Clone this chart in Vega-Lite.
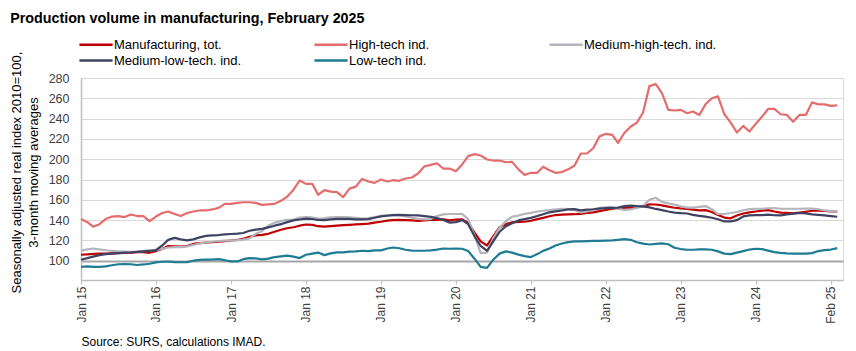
{
  "$schema": "https://vega.github.io/schema/vega-lite/v6.json",
  "autosize": {"type": "none"},
  "padding": {"left": 81, "top": 78, "right": 13, "bottom": 71},
  "width": 762,
  "height": 202,
  "title": {"text": "Production volume in manufacturing, February 2025", "anchor": "start", "font": "Liberation Sans", "fontSize": 14.3, "fontWeight": "bold", "color": "#000000", "offset": 12},
  "config": {
    "view": {"stroke": "#D9D9D9", "strokeWidth": 1},
    "axis": {"labelFont": "Liberation Sans", "titleFont": "Liberation Sans", "labelColor": "#404040"}
  },
  "data": {"values": [
    {"d":"2015-01","tot":105.9,"hi":141,"mhi":110,"mlo":101,"lo":94},
    {"d":"2015-02","tot":106.3,"hi":138,"mhi":111.2,"mlo":102.5,"lo":94.5},
    {"d":"2015-03","tot":106.7,"hi":133.5,"mhi":112,"mlo":104,"lo":94},
    {"d":"2015-04","tot":107,"hi":136,"mhi":111.2,"mlo":105.5,"lo":94},
    {"d":"2015-05","tot":107.1,"hi":141,"mhi":110.3,"mlo":106.5,"lo":94.5},
    {"d":"2015-06","tot":107.3,"hi":143.5,"mhi":109.6,"mlo":107,"lo":95.5},
    {"d":"2015-07","tot":107.5,"hi":144,"mhi":109.3,"mlo":107.5,"lo":96.5},
    {"d":"2015-08","tot":107.7,"hi":143,"mhi":109,"mlo":108,"lo":96.7},
    {"d":"2015-09","tot":107.9,"hi":145.5,"mhi":108.8,"mlo":108.3,"lo":96.5},
    {"d":"2015-10","tot":108.4,"hi":144,"mhi":109,"mlo":108.8,"lo":95.8},
    {"d":"2015-11","tot":108.5,"hi":144,"mhi":109.7,"mlo":109.2,"lo":96.3},
    {"d":"2015-12","tot":107.8,"hi":139,"mhi":110.2,"mlo":109.6,"lo":97},
    {"d":"2016-01","tot":109.5,"hi":143.5,"mhi":110.6,"mlo":110.5,"lo":98.3},
    {"d":"2016-02","tot":111.5,"hi":147,"mhi":111.6,"mlo":115,"lo":99},
    {"d":"2016-03","tot":114.5,"hi":148.5,"mhi":113,"mlo":120.5,"lo":99.2},
    {"d":"2016-04","tot":114.2,"hi":146,"mhi":113.4,"mlo":122.5,"lo":98.7},
    {"d":"2016-05","tot":113.8,"hi":144,"mhi":113.4,"mlo":121,"lo":98.5},
    {"d":"2016-06","tot":114.5,"hi":147,"mhi":114,"mlo":120,"lo":98.6},
    {"d":"2016-07","tot":116.5,"hi":148.5,"mhi":115.5,"mlo":121,"lo":100},
    {"d":"2016-08","tot":117.3,"hi":149.5,"mhi":117,"mlo":123,"lo":100.8},
    {"d":"2016-09","tot":117.8,"hi":149.5,"mhi":118,"mlo":124.5,"lo":101},
    {"d":"2016-10","tot":118.2,"hi":150.5,"mhi":118.7,"mlo":125,"lo":101},
    {"d":"2016-11","tot":118.7,"hi":152,"mhi":119.4,"mlo":125.3,"lo":101.5},
    {"d":"2016-12","tot":119.3,"hi":156,"mhi":119.7,"mlo":126,"lo":100.5},
    {"d":"2017-01","tot":119.9,"hi":156,"mhi":119.9,"mlo":126.3,"lo":99.3},
    {"d":"2017-02","tot":120.6,"hi":157,"mhi":120.3,"mlo":126.6,"lo":99.3},
    {"d":"2017-03","tot":121.5,"hi":157.6,"mhi":120.8,"mlo":127.3,"lo":101.5},
    {"d":"2017-04","tot":123.5,"hi":157.6,"mhi":122,"mlo":129.5,"lo":102.5},
    {"d":"2017-05","tot":125,"hi":157,"mhi":126.5,"mlo":130.7,"lo":102.3},
    {"d":"2017-06","tot":125.5,"hi":155,"mhi":129,"mlo":131.3,"lo":101.3},
    {"d":"2017-07","tot":126.5,"hi":155.5,"mhi":134.5,"mlo":132.8,"lo":102},
    {"d":"2017-08","tot":128.5,"hi":156,"mhi":137.5,"mlo":134.5,"lo":103.5},
    {"d":"2017-09","tot":130.5,"hi":159,"mhi":139,"mlo":136,"lo":104.3},
    {"d":"2017-10","tot":132,"hi":163,"mhi":140.2,"mlo":138,"lo":105},
    {"d":"2017-11","tot":133,"hi":170,"mhi":140.5,"mlo":139.7,"lo":104},
    {"d":"2017-12","tot":134.5,"hi":179,"mhi":142.5,"mlo":140.6,"lo":102.6},
    {"d":"2018-01","tot":135.7,"hi":175.7,"mhi":142.9,"mlo":141.4,"lo":105.9},
    {"d":"2018-02","tot":135.3,"hi":175.7,"mhi":142.6,"mlo":141.1,"lo":107},
    {"d":"2018-03","tot":134,"hi":165,"mhi":141.6,"mlo":140.1,"lo":108},
    {"d":"2018-04","tot":133.5,"hi":169.5,"mhi":142,"mlo":140,"lo":105.5},
    {"d":"2018-05","tot":134,"hi":168,"mhi":142.7,"mlo":140.7,"lo":107.2},
    {"d":"2018-06","tot":134.5,"hi":167.5,"mhi":143,"mlo":141.2,"lo":108.2},
    {"d":"2018-07","tot":135,"hi":162.6,"mhi":143,"mlo":141.3,"lo":108.2},
    {"d":"2018-08","tot":135.4,"hi":171,"mhi":142.8,"mlo":141.3,"lo":108.9},
    {"d":"2018-09","tot":135.8,"hi":173,"mhi":142.3,"mlo":140.8,"lo":109.2},
    {"d":"2018-10","tot":136.1,"hi":180.6,"mhi":141.6,"mlo":140.7,"lo":109.8},
    {"d":"2018-11","tot":136.5,"hi":178,"mhi":142,"mlo":141,"lo":109.5},
    {"d":"2018-12","tot":137.5,"hi":176.7,"mhi":143,"mlo":142.3,"lo":110.2},
    {"d":"2019-01","tot":138.4,"hi":180,"mhi":144.2,"mlo":143.7,"lo":110.2},
    {"d":"2019-02","tot":139.5,"hi":178,"mhi":145,"mlo":144.3,"lo":112},
    {"d":"2019-03","tot":140,"hi":179.3,"mhi":145.2,"mlo":144.9,"lo":113},
    {"d":"2019-04","tot":140.3,"hi":178.7,"mhi":144.8,"mlo":145.2,"lo":112.3},
    {"d":"2019-05","tot":140,"hi":181,"mhi":143.7,"mlo":145,"lo":110.8},
    {"d":"2019-06","tot":139.7,"hi":182,"mhi":142.5,"mlo":144.8,"lo":110},
    {"d":"2019-07","tot":139.2,"hi":186,"mhi":141.3,"mlo":144.6,"lo":109.8},
    {"d":"2019-08","tot":139.7,"hi":193,"mhi":140.8,"mlo":144,"lo":109.8},
    {"d":"2019-09","tot":140.2,"hi":194.4,"mhi":141,"mlo":143.2,"lo":110.2},
    {"d":"2019-10","tot":140.3,"hi":196,"mhi":144,"mlo":142,"lo":111},
    {"d":"2019-11","tot":140.7,"hi":190.8,"mhi":145.7,"mlo":140.2,"lo":112},
    {"d":"2019-12","tot":139.8,"hi":190.8,"mhi":146,"mlo":137.6,"lo":111.8},
    {"d":"2020-01","tot":140.5,"hi":188.2,"mhi":146,"mlo":138,"lo":112},
    {"d":"2020-02","tot":140.7,"hi":194.8,"mhi":146,"mlo":140,"lo":111.8},
    {"d":"2020-03","tot":137.5,"hi":203,"mhi":141,"mlo":136,"lo":109.5},
    {"d":"2020-04","tot":127.6,"hi":205,"mhi":125,"mlo":124,"lo":102},
    {"d":"2020-05","tot":119,"hi":203.6,"mhi":107.5,"mlo":114.5,"lo":94},
    {"d":"2020-06","tot":115,"hi":199.7,"mhi":108,"mlo":109.7,"lo":93},
    {"d":"2020-07","tot":124,"hi":198.7,"mhi":122,"mlo":119,"lo":101},
    {"d":"2020-08","tot":133,"hi":198.7,"mhi":132.5,"mlo":128.5,"lo":107},
    {"d":"2020-09","tot":136,"hi":197,"mhi":139,"mlo":134,"lo":109.2},
    {"d":"2020-10","tot":137.8,"hi":197.4,"mhi":143.5,"mlo":137,"lo":108},
    {"d":"2020-11","tot":138.2,"hi":190,"mhi":144.5,"mlo":139.7,"lo":106},
    {"d":"2020-12","tot":138.4,"hi":184.6,"mhi":146.2,"mlo":141,"lo":104.5},
    {"d":"2021-01","tot":139.4,"hi":186.6,"mhi":147.2,"mlo":142.2,"lo":103.6},
    {"d":"2021-02","tot":141,"hi":186.6,"mhi":148.5,"mlo":144,"lo":106.5},
    {"d":"2021-03","tot":142.2,"hi":192.5,"mhi":149.2,"mlo":145.8,"lo":109.7},
    {"d":"2021-04","tot":143.8,"hi":189.2,"mhi":149.8,"mlo":147.7,"lo":112},
    {"d":"2021-05","tot":145,"hi":186.6,"mhi":150.5,"mlo":148.6,"lo":115},
    {"d":"2021-06","tot":145.4,"hi":187.3,"mhi":151,"mlo":149.5,"lo":117},
    {"d":"2021-07","tot":145.6,"hi":190,"mhi":150.8,"mlo":150.5,"lo":118.3},
    {"d":"2021-08","tot":145.8,"hi":193.8,"mhi":149.8,"mlo":150.8,"lo":119},
    {"d":"2021-09","tot":146.2,"hi":205.6,"mhi":147.5,"mlo":149.6,"lo":119},
    {"d":"2021-10","tot":147,"hi":205.6,"mhi":148.6,"mlo":150.3,"lo":119.2},
    {"d":"2021-11","tot":147.7,"hi":211,"mhi":150.5,"mlo":150.7,"lo":119.5},
    {"d":"2021-12","tot":148.8,"hi":222.5,"mhi":152,"mlo":151.4,"lo":119.6},
    {"d":"2022-01","tot":150,"hi":225,"mhi":152.5,"mlo":151.9,"lo":119.8},
    {"d":"2022-02","tot":151.2,"hi":224,"mhi":152.7,"mlo":152.1,"lo":120},
    {"d":"2022-03","tot":151.7,"hi":216,"mhi":151.2,"mlo":152.3,"lo":120.6},
    {"d":"2022-04","tot":152.1,"hi":225.8,"mhi":150,"mlo":153.8,"lo":121.2},
    {"d":"2022-05","tot":152.1,"hi":232,"mhi":150.5,"mlo":154.2,"lo":120.6},
    {"d":"2022-06","tot":152.8,"hi":236,"mhi":152,"mlo":153.8,"lo":118.2},
    {"d":"2022-07","tot":153.5,"hi":246,"mhi":153.8,"mlo":153.6,"lo":116.8},
    {"d":"2022-08","tot":155.5,"hi":272,"mhi":160,"mlo":152.5,"lo":116},
    {"d":"2022-09","tot":155.4,"hi":274,"mhi":162,"mlo":151,"lo":116.5},
    {"d":"2022-10","tot":154.5,"hi":265,"mhi":158,"mlo":149.8,"lo":117},
    {"d":"2022-11","tot":153.3,"hi":248.6,"mhi":156.5,"mlo":148.5,"lo":116.2},
    {"d":"2022-12","tot":152.2,"hi":248,"mhi":155.3,"mlo":147.4,"lo":112.8},
    {"d":"2023-01","tot":151.5,"hi":248.6,"mhi":153.5,"mlo":146.8,"lo":111.5},
    {"d":"2023-02","tot":151,"hi":245.3,"mhi":152.3,"mlo":146.5,"lo":110.8},
    {"d":"2023-03","tot":150.3,"hi":247,"mhi":152.3,"mlo":145.2,"lo":110.8},
    {"d":"2023-04","tot":149.6,"hi":243.6,"mhi":153.1,"mlo":144.1,"lo":111.2},
    {"d":"2023-05","tot":149.8,"hi":254,"mhi":153.8,"mlo":143.5,"lo":111.2},
    {"d":"2023-06","tot":148,"hi":260,"mhi":150.8,"mlo":142.3,"lo":110.8},
    {"d":"2023-07","tot":145,"hi":262,"mhi":146,"mlo":140.8,"lo":109.2},
    {"d":"2023-08","tot":142.5,"hi":244.3,"mhi":146,"mlo":138.7,"lo":107},
    {"d":"2023-09","tot":141.8,"hi":236,"mhi":147,"mlo":138.7,"lo":106.5},
    {"d":"2023-10","tot":144.5,"hi":226.3,"mhi":148,"mlo":140,"lo":108},
    {"d":"2023-11","tot":146.5,"hi":232.8,"mhi":149.7,"mlo":143.6,"lo":109.5},
    {"d":"2023-12","tot":147.6,"hi":227.3,"mhi":150.8,"mlo":144.6,"lo":111},
    {"d":"2024-01","tot":148.5,"hi":234.8,"mhi":151.2,"mlo":144.9,"lo":111.8},
    {"d":"2024-02","tot":149.3,"hi":242,"mhi":151.2,"mlo":144.9,"lo":111.4},
    {"d":"2024-03","tot":149.8,"hi":249.5,"mhi":151.7,"mlo":145.4,"lo":110},
    {"d":"2024-04","tot":148.5,"hi":249.5,"mhi":151.8,"mlo":144.8,"lo":108.5},
    {"d":"2024-05","tot":147.4,"hi":244.3,"mhi":151.2,"mlo":144.6,"lo":107.7},
    {"d":"2024-06","tot":147.1,"hi":243.6,"mhi":151.2,"mlo":145.5,"lo":107.2},
    {"d":"2024-07","tot":146.6,"hi":237,"mhi":151.2,"mlo":146.4,"lo":107},
    {"d":"2024-08","tot":147.3,"hi":243.6,"mhi":151.2,"mlo":147.1,"lo":106.9},
    {"d":"2024-09","tot":148.2,"hi":243.6,"mhi":151.4,"mlo":146.5,"lo":106.9},
    {"d":"2024-10","tot":149.2,"hi":256,"mhi":151.3,"mlo":145.7,"lo":107.5},
    {"d":"2024-11","tot":149.2,"hi":254,"mhi":150.7,"mlo":145.2,"lo":109.5},
    {"d":"2024-12","tot":149,"hi":254,"mhi":149.5,"mlo":144.6,"lo":110.5},
    {"d":"2025-01","tot":148.7,"hi":252.5,"mhi":148.8,"mlo":144,"lo":111},
    {"d":"2025-02","tot":148.5,"hi":253,"mhi":148.8,"mlo":143.3,"lo":112.4}
  ]},
  "transform": [{"fold": ["tot", "hi", "mhi", "mlo", "lo"], "as": ["s", "v"]}],
  "mark": {"type": "line", "strokeWidth": 2.2, "strokeJoin": "round"},
  "encoding": {
    "x": {
      "field": "d", "type": "temporal",
      "scale": {"type": "utc", "domain": [{"year": 2015, "month": 1, "date": 1, "utc": true}, {"year": 2025, "month": 3, "date": 1, "utc": true}]},
      "axis": {
        "values": [
          {"year": 2015, "month": 1, "date": 1, "utc": true},
          {"year": 2016, "month": 1, "date": 1, "utc": true},
          {"year": 2017, "month": 1, "date": 1, "utc": true},
          {"year": 2018, "month": 1, "date": 1, "utc": true},
          {"year": 2019, "month": 1, "date": 1, "utc": true},
          {"year": 2020, "month": 1, "date": 1, "utc": true},
          {"year": 2021, "month": 1, "date": 1, "utc": true},
          {"year": 2022, "month": 1, "date": 1, "utc": true},
          {"year": 2023, "month": 1, "date": 1, "utc": true},
          {"year": 2024, "month": 1, "date": 1, "utc": true},
          {"year": 2025, "month": 1, "date": 1, "utc": true}
        ],
        "labelExpr": "utcyear(datum.value) == 2025 ? 'Feb 25' : 'Jan ' + utcFormat(datum.value, '%y')",
        "labelAngle": -90, "labelFontSize": 12, "labelPadding": 2, "labelFlush": false, "labelOverlap": false,
        "tickSize": 4, "tickColor": "#BFBFBF", "domainColor": "#BFBFBF", "domainWidth": 1.5,
        "grid": false,
        "title": "Source: SURS, calculations IMAD.", "titleAnchor": "start", "titleAlign": "left",
        "titleFontSize": 12, "titleFontWeight": "normal", "titleColor": "#000000", "titlePadding": 13
      }
    },
    "y": {
      "field": "v", "type": "quantitative",
      "scale": {"domain": [81, 280], "nice": false, "zero": false},
      "axis": {
        "values": [100, 120, 140, 160, 180, 200, 220, 240, 260, 280],
        "labelFontSize": 12.5, "labelPadding": 12, "ticks": false, "labelOverlap": false, "labelFlush": false,
        "domainColor": "#BFBFBF", "domainWidth": 1.5,
        "gridColor": {"condition": {"test": "datum.value == 100", "value": "#A6A6A6"}, "value": "#D9D9D9"},
        "gridWidth": {"condition": {"test": "datum.value == 100", "value": 2}, "value": 1.2},
        "title": ["Seasonally adjusted real  index 2010=100,", "3-month moving averages"],
        "titleFontSize": 13, "titleFontWeight": "normal", "titleColor": "#000000",
        "titleLineHeight": 17, "titlePadding": 8, "titleY": 94
      }
    },
    "color": {
      "field": "s", "type": "nominal",
      "scale": {"domain": ["tot", "hi", "mhi", "mlo", "lo"], "range": ["#C00000", "#E46C6C", "#B4B4BC", "#3E4363", "#1F7A94"]},
      "legend": {
        "orient": "none", "legendX": -3, "legendY": -40, "direction": "horizontal", "columns": 3,
        "gridAlign": "all", "columnPadding": 66, "rowPadding": 2, "padding": 0, "clipHeight": 13,
        "title": null, "symbolType": "stroke", "symbolSize": 1100, "symbolStrokeWidth": 2.5,
        "labelFont": "Liberation Sans", "labelFontSize": 13, "labelColor": "#000000", "labelOffset": 0, "labelLimit": 0,
        "labelExpr": "{'tot': 'Manufacturing, tot.', 'hi': 'High-tech ind.', 'mhi': 'Medium-high-tech. ind.', 'mlo': 'Medium-low-tech. ind.', 'lo': 'Low-tech ind.'}[datum.label]"
      }
    }
  }
}
